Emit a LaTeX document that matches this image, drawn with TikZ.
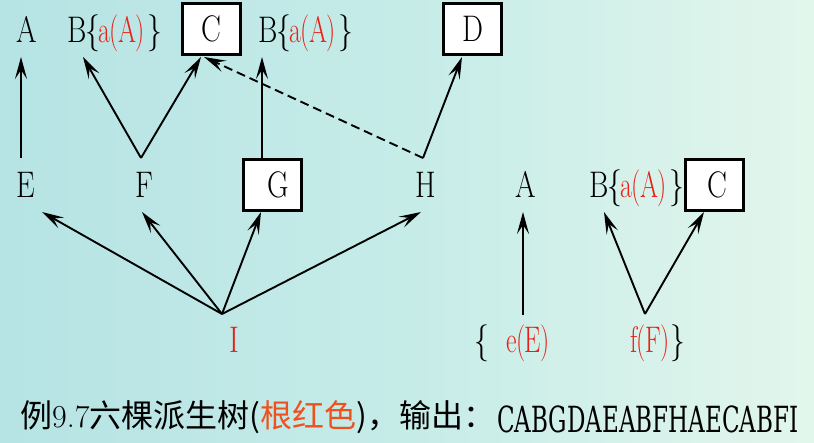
\documentclass[tikz,border=0pt]{standalone}
\usepackage{fontspec}
\newfontfamily\condf{DejaVu Serif}[FakeStretch=0.64]
\newfontfamily\cjk{Noto Sans CJK SC}
\usetikzlibrary{arrows.meta}
\definecolor{myred}{RGB}{232,32,22}
\definecolor{myorange}{RGB}{238,80,30}
\definecolor{bgl}{RGB}{182,227,228}
\definecolor{bgm}{RGB}{198,236,232}
\definecolor{bgr}{RGB}{226,246,236}
\newcommand{\sx}[1]{\scalebox{0.8}[1]{#1}}
\newcommand{\sxr}[1]{\scalebox{0.7}[1]{#1}}
\newcommand{\Bnode}{\sx{B\kern-1pt\{}\kern-2pt\sxr{\color{myred}a\kern-1pt(\kern-1ptA\kern-1pt)}\kern3pt\sx{\}}}
\begin{document}
\begin{tikzpicture}[x=1pt,y=-1pt,
  >={Stealth[length=22pt,width=12pt,inset=9pt]},
  lbl/.style={inner sep=0pt, anchor=base, font=\fontsize{37}{40}\selectfont},
  boxn/.style={draw, line width=3pt, fill=white, minimum width=58pt, minimum height=51pt, inner sep=0pt, font=\fontsize{37}{40}\selectfont},
  arr/.style={line width=1.9pt, ->},
  darr/.style={arr, dash pattern=on 9pt off 5pt}]
\useasboundingbox (0,0) rectangle (814,443);
\shade[left color=bgl, right color=bgr, middle color=bgm] (0,0) rectangle (814,443);
% top row
\node[lbl] (A1) at (27,43) {\sx{A}};
\node[lbl, anchor=base west] (B1) at (67,43) {\Bnode};
\node[boxn] (C1) at (211,29) {\sx{C}};
\node[lbl, anchor=base west] (B2) at (258,43) {\Bnode};
\node[boxn] (D1) at (472.5,29) {\sx{D}};
% middle row
\node[lbl] (E) at (26,198) {\sx{E}};
\node[lbl] (F) at (144,198) {\sx{F}};
\node[boxn] (G) at (272,185) {\kern12pt\sx{G}};
\node[lbl] (H) at (426,198) {\sx{H}};
\node[lbl] (A2) at (526,198) {\sx{A}};
\node[lbl, anchor=base west] (B3) at (589,198) {\Bnode};
\node[boxn] (C3) at (714.5,185) {\kern6pt\sx{C}};
% bottom row
\node[lbl, text=myred] (I) at (234,353) {\sx{I}};
\node[lbl] (lb) at (482,353) {\sx{\{}};
\node[lbl, text=myred] (e) at (528,353) {\sxr{e\kern-1pt(\kern-1ptE\kern-1pt)}};
\node[lbl, text=myred] (f) at (650,353) {\sxr{f\kern-1pt(\kern-1ptF\kern-1pt)}};
\node[lbl] (rb) at (678,353) {\sx{\}}};
% caption
\node[anchor=base west, inner sep=0pt] (cap) at (20,428) {\cjk\fontsize{32}{36}\selectfont 例{\rmfamily 9.7}六棵派生树(\textcolor{myorange}{根红色})，输出：};
\node[anchor=base west, inner sep=0pt] (out) at (497,432) {\condf\fontsize{36}{40}\selectfont CABGDAEABFHAECABFI};
% connector points
\coordinate (pE) at (21,158);
\coordinate (tA1) at (21,57);
\coordinate (pF) at (141,158);
\coordinate (tB1) at (83,57);
\coordinate (tC1) at (201,57);
\coordinate (pG) at (262,158);
\coordinate (tB2) at (262,57);
\coordinate (pH) at (423,158);
\coordinate (tD) at (462,57);
\coordinate (tC1b) at (204,57);
\coordinate (pI) at (222,314);
\coordinate (tE) at (42,212);
\coordinate (tF) at (142,212);
\coordinate (tG) at (261,212);
\coordinate (tH) at (421,212);
\coordinate (pe) at (523,315);
\coordinate (tA2) at (523,212);
\coordinate (pf) at (645,314);
\coordinate (tB3) at (604,212);
\coordinate (tC3) at (704,212);
% connectors
\draw[arr] (pE) -- (tA1);
\draw[arr] (pF) -- (tB1);
\draw[arr] (pF) -- (tC1);
\draw[arr] (pG) -- (tB2);
\draw[arr] (pH) -- (tD);
\draw[darr] (pH) -- (tC1b);
\draw[arr] (pI) -- (tE);
\draw[arr] (pI) -- (tF);
\draw[arr] (pI) -- (tG);
\draw[arr] (pI) -- (tH);
\draw[arr] (pe) -- (tA2);
\draw[arr] (pf) -- (tB3);
\draw[arr] (pf) -- (tC3);
\end{tikzpicture}
\end{document}
